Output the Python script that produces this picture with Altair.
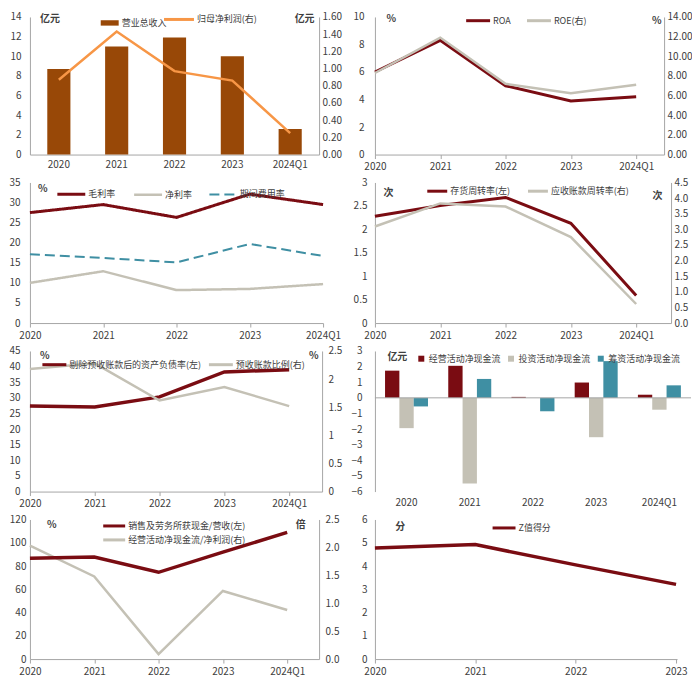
import altair as alt
import pandas as pd

FONT = "Noto Sans CJK SC"
RED = "#7a0c12"
GRAY = "#c4c1b5"
TEAL = "#3f8fa3"
BROWN = "#984807"
ORANGE = "#f79646"
AXIS_C = "#a6a6a6"
TXT = "#404040"

# ---------------- data ----------------
years = ["2020", "2021", "2022", "2023", "2024Q1"]
z_years = ["2020", "2021", "2022", "2023"]

revenue = [8.7, 11.0, 11.9, 10.0, 2.6]
net_profit = [0.87, 1.43, 0.97, 0.86, 0.25]
roa = [6.0, 8.3, 5.0, 3.9, 4.2]
roe = [8.3, 11.9, 7.2, 6.25, 7.1]
gross_margin = [27.5, 29.5, 26.3, 32.1, 29.5]
net_margin = [10.0, 12.9, 8.2, 8.5, 9.7]
expense_ratio = [17.1, 16.2, 15.1, 19.7, 16.7]
inv_turnover = [2.28, 2.51, 2.68, 2.13, 0.59]
ar_turnover = [3.09, 3.83, 3.73, 2.75, 0.61]
debt_ratio = [27.4, 27.1, 30.3, 38.3, 39.0]
adv_ratio = [2.18, 2.28, 1.62, 1.86, 1.52]
cf_oper = [1.74, 2.05, 0.06, 0.98, 0.20]
cf_inv = [-1.94, -5.48, 0.0, -2.52, -0.76]
cf_fin = [-0.55, 1.21, -0.86, 2.35, 0.80]
cash_ratio = [86.6, 87.7, 74.6, 91.9, 108.9]
ocf_np = [2.03, 1.48, 0.09, 1.22, 0.88]
z_score = [4.77, 4.92, 4.05, 3.21]

# tick values
t_rev = [0, 2, 4, 6, 8, 10, 12, 14]
t_np = [0, 0.2, 0.4, 0.6, 0.8, 1.0, 1.2, 1.4, 1.6]
t_roa = [0, 2, 4, 6, 8, 10]
t_roe = [0, 2, 4, 6, 8, 10, 12, 14]
t_margin = [0, 5, 10, 15, 20, 25, 30, 35]
t_inv = [0, 0.5, 1, 1.5, 2, 2.5, 3]
t_ar = [0, 0.5, 1, 1.5, 2, 2.5, 3, 3.5, 4, 4.5]
t_debt = [0, 5, 10, 15, 20, 25, 30, 35, 40, 45]
t_adv = [0, 0.5, 1, 1.5, 2, 2.5]
t_cf = [-6, -5, -4, -3, -2, -1, 0, 1, 2, 3]
t_cash = [0, 20, 40, 60, 80, 100, 120]
t_ocf = [0, 0.5, 1, 1.5, 2, 2.5]
t_z = [0, 1, 2, 3, 4, 5, 6]

# series names
s_rev = "营业总收入"
s_np = "归母净利润(右)"
s_roe_pair = ["ROA", "ROE(右)"]
s_margin = ["毛利率", "净利率", "期间费用率"]
s_turn = ["存货周转率(左)", "应收账款周转率(右)"]
s_debt = ["剔除预收账款后的资产负债率(左)", "预收账款比例(右)"]
s_cf = ["经营活动净现金流", "投资活动净现金流", "筹资活动净现金流"]
s_cash = ["销售及劳务所获现金/营收(左)", "经营活动净现金流/净利润(右)"]
s_z = "Z值得分"


# ---------------- helpers ----------------
def line_legend(x, y, length=28, fs=9, colpad=10):
    side = 8
    h = length / side
    return alt.Legend(title=None, orient="none", legendX=x, legendY=y,
                      direction="horizontal",
                      symbolType=f"M{-h:.3f},0H{h:.3f}", symbolSize=side * side,
                      symbolStrokeWidth=3, labelOffset=length / 2 - 2.5,
                      labelFontSize=fs, labelFont=FONT, labelColor=TXT,
                      columnPadding=colpad, padding=0, labelLimit=300)


def yleft(values, title, tx, ty, pad, fmt="d"):
    return alt.Axis(values=values, orient="left", title=title, titleAngle=0,
                    titleX=tx, titleY=ty, titleAlign="left", titleBaseline="middle",
                    titleFontWeight="bold", titleFontSize=10, titleColor=TXT,
                    titleFont=FONT, ticks=False, labelPadding=pad, format=fmt,
                    labelOverlap=False)


def yright(values, title, tx, ty, pad, fmt):
    return alt.Axis(values=values, orient="right", title=title, titleAngle=0,
                    titleX=tx, titleY=ty, titleAlign="right", titleBaseline="middle",
                    titleFontWeight="bold", titleFontSize=10, titleColor=TXT,
                    titleFont=FONT, ticks=False, labelPadding=pad, format=fmt,
                    labelOverlap=False)


def xpoint(domain, W, last):
    n = len(domain)
    step = last / (n - 1)
    p = max(0.0, (W / step - (n - 1)) / 2)
    return alt.X("year:N",
                 scale=alt.Scale(type="point", domain=domain, padding=p, align=0),
                 axis=alt.Axis(title=None, labelAngle=0, ticks=True, tickSize=4,
                               labelPadding=3, labelOverlap=False))


def frame(yrs, vals, series):
    return pd.DataFrame({"year": yrs, "v": vals, "series": [series] * len(yrs)})


H1, H2, H3, H4 = 138, 141, 141, 140

# ---------------- panel 1 ----------------
d1 = pd.DataFrame({"year": years, "rev": revenue, "np": net_profit,
                   "sb": [s_rev] * 5, "sl": [s_np] * 5})
x1_scale = alt.Scale(domain=years, paddingInner=0.6, paddingOuter=0.3)
x1_axis = alt.Axis(title=None, labelAngle=0, ticks=False, labelPadding=5, labelOverlap=False)
bar1 = alt.Chart(d1).mark_bar().encode(
    x=alt.X("year:N", scale=x1_scale, axis=x1_axis),
    y=alt.Y("rev:Q", scale=alt.Scale(domain=[0, 14], nice=False),
            axis=yleft(t_rev, "亿元", 9.5, 2, 9)),
    color=alt.Color("sb:N", scale=alt.Scale(domain=[s_rev], range=[BROWN]),
                    legend=alt.Legend(title=None, orient="none", legendX=71, legendY=-3,
                                      symbolType="M-1,-0.3H1V0.3H-1Z", symbolSize=324,
                                      symbolStrokeWidth=0, labelOffset=3, labelFontSize=9,
                                      labelFont=FONT, labelColor=TXT, padding=0)),
)
line1 = alt.Chart(d1).mark_line(strokeWidth=2.5).encode(
    x=alt.X("year:N", scale=x1_scale, axis=x1_axis, bandPosition=0.5),
    y=alt.Y("np:Q", scale=alt.Scale(domain=[0, 1.6], nice=False),
            axis=yright(t_np, "亿元", -5, 2, 3, ".2f")),
    stroke=alt.Stroke("sl:N", scale=alt.Scale(domain=[s_np], range=[ORANGE]),
                      legend=line_legend(144, -3, 30)),
)
p1 = alt.layer(bar1, line1).resolve_scale(y="independent").properties(width=290, height=H1)

# ---------------- panel 2 ----------------
x2 = xpoint(years, 290, 262)
c2 = alt.Scale(domain=s_roe_pair, range=[RED, GRAY])
leg2 = line_legend(98, -2, 24, colpad=9)
roe_l = alt.Chart(frame(years, roe, s_roe_pair[1])).mark_line(strokeWidth=2.5).encode(
    x=x2,
    y=alt.Y("v:Q", scale=alt.Scale(domain=[0, 14], nice=False),
            axis=yright(t_roe, "%", -3, 4, 3, ".2f")),
    color=alt.Color("series:N", scale=c2, legend=leg2),
)
roa_l = alt.Chart(frame(years, roa, s_roe_pair[0])).mark_line(strokeWidth=3).encode(
    x=x2,
    y=alt.Y("v:Q", scale=alt.Scale(domain=[0, 10], nice=False),
            axis=yleft(t_roa, "%", 11, 2, 11)),
    color=alt.Color("series:N", scale=c2, legend=leg2),
)
p2 = alt.layer(roa_l, roe_l).resolve_scale(y="independent").properties(width=290, height=H1)

# ---------------- panel 3 ----------------
d3 = pd.concat([frame(years, gross_margin, s_margin[0]),
                frame(years, net_margin, s_margin[1]),
                frame(years, expense_ratio, s_margin[2])])
leg3 = line_legend(36, 6, 28, colpad=13)
p3 = alt.Chart(d3).mark_line().encode(
    x=xpoint(years, 294, 294),
    y=alt.Y("v:Q", scale=alt.Scale(domain=[0, 35], nice=False),
            axis=yleft(t_margin, "%", 7.5, 6, 10)),
    color=alt.Color("series:N", scale=alt.Scale(domain=s_margin, range=[RED, GRAY, TEAL]),
                    legend=leg3),
    strokeDash=alt.StrokeDash("series:N",
                              scale=alt.Scale(domain=s_margin, range=[[1, 0], [1, 0], [10, 5]]),
                              legend=leg3),
    strokeWidth=alt.StrokeWidth("series:N",
                                scale=alt.Scale(domain=s_margin, range=[3, 2, 2.5]),
                                legend=None),
).properties(width=294, height=H2)

# ---------------- panel 4 ----------------
x4 = xpoint(years, 297, 262)
c4 = alt.Scale(domain=s_turn, range=[RED, GRAY])
leg4 = line_legend(57, 3, 20, colpad=11)
inv_l = alt.Chart(frame(years, inv_turnover, s_turn[0])).mark_line(strokeWidth=3).encode(
    x=x4,
    y=alt.Y("v:Q", scale=alt.Scale(domain=[0, 3], nice=False),
            axis=yleft(t_inv, "次", 8, 10, 8, "~g")),
    color=alt.Color("series:N", scale=c4, legend=leg4),
)
ar_l = alt.Chart(frame(years, ar_turnover, s_turn[1])).mark_line(strokeWidth=2.5).encode(
    x=x4,
    y=alt.Y("v:Q", scale=alt.Scale(domain=[0, 4.5], nice=False),
            axis=yright(t_ar, "次", -9, 13, 3, ".1f")),
    color=alt.Color("series:N", scale=c4, legend=leg4),
)
p4 = alt.layer(inv_l, ar_l).resolve_scale(y="independent").properties(width=297, height=H2)

# ---------------- panel 5 ----------------
x5 = xpoint(years, 293, 260)
c5 = alt.Scale(domain=s_debt, range=[RED, GRAY])
leg5 = line_legend(19, 8, 24, colpad=1)
adv_l = alt.Chart(frame(years, adv_ratio, s_debt[1])).mark_line(strokeWidth=2.5).encode(
    x=x5,
    y=alt.Y("v:Q", scale=alt.Scale(domain=[0, 2.5], nice=False),
            axis=yright(t_adv, "%", -4, 5, 6, "~g")),
    color=alt.Color("series:N", scale=c5, legend=leg5),
)
debt_l = alt.Chart(frame(years, debt_ratio, s_debt[0])).mark_line(strokeWidth=3.5).encode(
    x=x5,
    y=alt.Y("v:Q", scale=alt.Scale(domain=[0, 45], nice=False),
            axis=yleft(t_debt, "%", 9.5, 5, 10)),
    color=alt.Color("series:N", scale=c5, legend=leg5),
)
p5 = alt.layer(debt_l, adv_l).resolve_scale(y="independent").properties(width=293, height=H3)

# ---------------- panel 6 ----------------
d6 = pd.concat([frame(years, cf_oper, s_cf[0]),
                frame(years, cf_inv, s_cf[1]),
                frame(years, cf_fin, s_cf[2])])
y6_scale = alt.Scale(domain=[-6, 3], nice=False)
y6_axis = yleft(t_cf, "亿元", 12, 6, 13)
bars6 = alt.Chart(d6).mark_bar().encode(
    x=alt.X("year:N", scale=alt.Scale(domain=years, paddingInner=0.32, paddingOuter=0.16),
            axis=alt.Axis(title=None, labelAngle=0, ticks=False, domain=False, labelPadding=6,
                          labelOverlap=False)),
    xOffset=alt.XOffset("series:N", scale=alt.Scale(domain=s_cf, paddingInner=0)),
    y=alt.Y("v:Q", scale=y6_scale, axis=y6_axis),
    color=alt.Color("series:N", scale=alt.Scale(domain=s_cf, range=[RED, GRAY, TEAL]),
                    legend=alt.Legend(title=None, orient="none", legendX=42, legendY=3,
                                      direction="horizontal", symbolType="square",
                                      symbolSize=36, symbolStrokeWidth=0, labelOffset=3,
                                      labelFontSize=9, labelFont=FONT, labelColor=TXT,
                                      columnPadding=5, padding=0)),
)
zero6 = alt.Chart(pd.DataFrame({"v": [0]})).mark_rule(color=AXIS_C, strokeWidth=1).encode(
    y=alt.Y("v:Q", scale=y6_scale, axis=y6_axis))
p6 = alt.layer(bars6, zero6).properties(width=317, height=H3)

# ---------------- panel 7 ----------------
x7 = xpoint(years, 290, 258)
cash_l = alt.Chart(frame(years, cash_ratio, s_cash[0])).mark_line(strokeWidth=3.5).encode(
    x=x7,
    y=alt.Y("v:Q", scale=alt.Scale(domain=[0, 120], nice=False),
            axis=yleft(t_cash, "%", 16.5, 5, 4)),
    color=alt.Color("series:N", scale=alt.Scale(domain=[s_cash[0]], range=[RED]),
                    legend=line_legend(79, 1, 22)),
)
ocf_l = alt.Chart(frame(years, ocf_np, s_cash[1])).mark_line(strokeWidth=2.5).encode(
    x=x7,
    y=alt.Y("v:Q", scale=alt.Scale(domain=[0, 2.5], nice=False),
            axis=yright(t_ocf, "倍", -14, 5, 6, ".1f")),
    stroke=alt.Stroke("series:N", scale=alt.Scale(domain=[s_cash[1]], range=[GRAY]),
                      legend=line_legend(79, 15, 22)),
)
p7 = alt.layer(ocf_l, cash_l).resolve_scale(y="independent").properties(width=290, height=H4)

# ---------------- panel 8 ----------------
p8 = alt.Chart(frame(z_years, z_score, s_z)).mark_line(strokeWidth=3.5).encode(
    x=xpoint(z_years, 303, 302),
    y=alt.Y("v:Q", scale=alt.Scale(domain=[0, 6], nice=False),
            axis=yleft(t_z, "分", 20, 7, 8)),
    color=alt.Color("series:N", scale=alt.Scale(domain=[s_z], range=[RED]),
                    legend=line_legend(124, 3, 23)),
).properties(width=303, height=H4)

chart = alt.concat(p1, p2, p3, p4, p5, p6, p7, p8, columns=2,
                   spacing={"row": 28, "column": 52}, bounds="flush", align="each")
chart = chart.resolve_scale(
    x="independent", y="independent", color="independent", stroke="independent",
    strokeDash="independent", strokeWidth="independent", xOffset="independent",
).resolve_legend(color="independent", stroke="independent", strokeDash="independent")
chart = chart.properties(padding={"left": 0, "top": 3, "right": 0, "bottom": 0}).configure(
    font=FONT).configure_view(stroke=None).configure_axis(
    labelFont=FONT, labelFontSize=10, labelColor=TXT, grid=False,
    domainColor=AXIS_C, tickColor=AXIS_C, titleFont=FONT,
).configure_legend(labelFont=FONT, labelColor=TXT)

chart.save("out.html", embed_options={"renderer": "svg", "actions": False})
